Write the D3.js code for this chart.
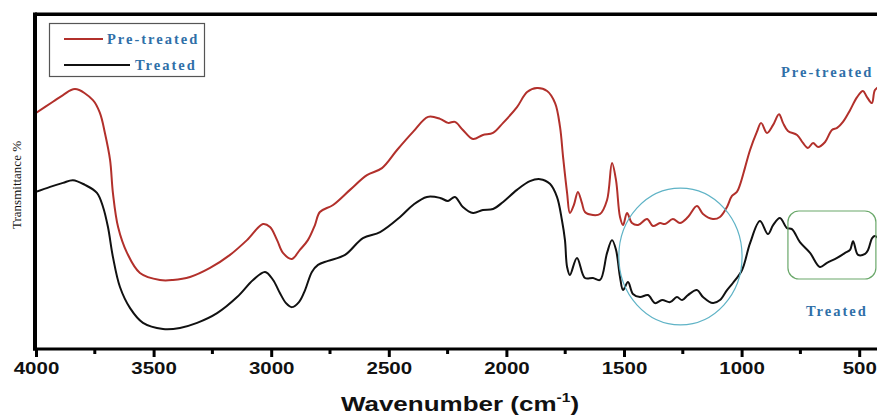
<!DOCTYPE html>
<html>
<head>
<meta charset="utf-8">
<script src="https://cdn.jsdelivr.net/npm/d3@7"></script>
<style>
    html, body { margin: 0; padding: 0; background: #fff; }
    svg { display: block; }
</style>
</head>
<body>
<div id="chart"></div>
<script>
// FTIR spectra (wavenumber in cm-1, transmittance in arbitrary %)
const pretreatedWn = [4000, 3928, 3885, 3834, 3758, 3728, 3707, 3685, 3673, 3651, 3613, 3558, 3473, 3418, 3345, 3260, 3175, 3103, 3035, 3005, 2975, 2950, 2912, 2878, 2844, 2814, 2793, 2737, 2665, 2593, 2529, 2465, 2397, 2333, 2282, 2248, 2219, 2185, 2142, 2100, 2057, 2014, 1955, 1912, 1870, 1827, 1793, 1772, 1759, 1742, 1730, 1713, 1696, 1679, 1666, 1632, 1602, 1572, 1551, 1534, 1517, 1504, 1487, 1466, 1440, 1402, 1377, 1347, 1326, 1292, 1262, 1228, 1190, 1164, 1122, 1092, 1062, 1041, 1020, 1007, 986, 964, 935, 917, 892, 866, 841, 824, 803, 764, 739, 718, 696, 675, 645, 616, 594, 569, 539, 509, 484, 467, 446, 433, 411];
const pretreatedT = [70.5, 73.8, 75.8, 77.6, 74.3, 70.4, 64.5, 56.4, 46.6, 36.4, 28.7, 22.7, 20.6, 20.6, 21.5, 24.2, 28.1, 32.5, 37.3, 36.4, 32.5, 28.7, 26.9, 29.6, 32.5, 37.0, 40.9, 43.0, 47.5, 51.9, 54.0, 59.4, 64.8, 69.3, 68.7, 67.5, 67.8, 65.4, 62.7, 63.9, 64.5, 67.5, 72.2, 76.7, 77.9, 77.0, 73.4, 66.3, 57.3, 46.6, 40.6, 43.0, 46.9, 43.6, 40.9, 40.0, 40.3, 44.5, 55.5, 50.4, 39.4, 37.0, 40.6, 37.6, 37.0, 38.8, 36.7, 37.6, 37.3, 38.8, 37.6, 39.4, 42.7, 40.3, 38.8, 39.4, 42.4, 45.7, 46.9, 49.0, 54.0, 59.4, 64.8, 67.5, 64.5, 66.9, 70.1, 67.5, 65.1, 63.9, 61.5, 60.0, 61.5, 60.3, 61.8, 65.4, 66.0, 67.8, 71.3, 75.2, 77.0, 75.2, 73.4, 77.3, 78.5];

const treatedWn = [4000, 3940, 3885, 3843, 3792, 3741, 3715, 3694, 3673, 3643, 3600, 3545, 3460, 3388, 3315, 3230, 3145, 3077, 3026, 2992, 2963, 2937, 2912, 2882, 2856, 2827, 2801, 2758, 2686, 2610, 2537, 2452, 2397, 2338, 2282, 2248, 2219, 2185, 2142, 2100, 2057, 2014, 1955, 1900, 1857, 1815, 1785, 1764, 1751, 1742, 1730, 1700, 1666, 1632, 1602, 1572, 1551, 1534, 1517, 1504, 1483, 1462, 1432, 1398, 1368, 1338, 1304, 1275, 1253, 1228, 1190, 1164, 1122, 1092, 1062, 1037, 998, 964, 922, 888, 866, 837, 807, 786, 752, 709, 667, 637, 594, 560, 539, 526, 505, 475, 462, 445, 433, 411];
const treatedT = [46.9, 48.4, 49.6, 50.4, 49.0, 46.6, 42.4, 36.4, 27.5, 18.5, 12.2, 7.8, 6.0, 6.3, 7.8, 10.7, 15.5, 20.6, 23.0, 20.6, 16.7, 13.7, 12.5, 14.0, 17.6, 23.0, 25.1, 26.3, 28.1, 33.1, 34.9, 39.4, 43.0, 45.4, 45.1, 44.2, 45.4, 42.4, 40.6, 41.5, 41.8, 43.9, 47.5, 50.1, 50.7, 49.3, 45.4, 38.5, 32.5, 24.5, 22.1, 27.2, 21.2, 21.2, 20.6, 28.7, 32.5, 29.6, 21.5, 17.6, 20.0, 16.4, 15.5, 16.1, 13.7, 14.6, 14.0, 15.5, 14.6, 16.1, 17.6, 15.5, 13.7, 14.6, 17.6, 19.7, 23.6, 31.6, 38.2, 34.3, 37.0, 39.1, 36.1, 35.8, 31.9, 28.7, 24.5, 25.7, 27.2, 28.7, 29.6, 32.2, 28.1, 28.4, 29.6, 33.1, 33.7, 32.5];

const seriesNames = ['Pre-treated', 'Treated'];
const seriesColors = ['#b2302b', '#111111'];
const xTicks = [4000, 3500, 3000, 2500, 2000, 1500, 1000, 500];
const xMinorTicks = [3750, 3250, 2750, 2250, 1750, 1250, 750];

// highlighted regions (data units)
const circleRegion = {wn: 1260, t: 27.6, rWn: 262, rT: 20.4};
const boxRegion = {wn0: 803, wn1: 429, t0: 41.2, t1: 20.9};

const width = 877, height = 417;

const x = d3.scaleLinear().domain([4000, 400]).range([36, 36 + 7.2 * 117.6]);
const y = d3.scaleLinear().domain([0, 100]).range([349, 14]);

const svg = d3.select('#chart').append('svg')
    .attr('width', width)
    .attr('height', height);

svg.append('defs').append('clipPath')
    .attr('id', 'plot-clip')
    .append('rect')
    .attr('x', 36).attr('y', 14)
    .attr('width', width).attr('height', 349 - 14);

const line = d3.line()
    .curve(d3.curveCatmullRom.alpha(0.5))
    .x(d => x(d[0]))
    .y(d => y(d[1]));

const series = [
    d3.zip(pretreatedWn, pretreatedT),
    d3.zip(treatedWn, treatedT)
];

const plot = svg.append('g').attr('clip-path', 'url(#plot-clip)');

series.forEach((data, i) => {
    plot.append('path')
        .datum(data)
        .attr('fill', 'none')
        .attr('stroke', seriesColors[i])
        .attr('stroke-width', 2)
        .attr('stroke-linejoin', 'round')
        .attr('d', line);
});

// annotations
plot.append('ellipse')
    .attr('cx', x(circleRegion.wn))
    .attr('cy', y(circleRegion.t))
    .attr('rx', x(circleRegion.wn - circleRegion.rWn) - x(circleRegion.wn))
    .attr('ry', y(circleRegion.t - circleRegion.rT) - y(circleRegion.t))
    .attr('fill', 'none')
    .attr('stroke', '#5fb3c6')
    .attr('stroke-width', 1.2);

plot.append('rect')
    .attr('x', x(boxRegion.wn0))
    .attr('y', y(boxRegion.t0))
    .attr('width', x(boxRegion.wn1) - x(boxRegion.wn0))
    .attr('height', y(boxRegion.t1) - y(boxRegion.t0))
    .attr('rx', 11)
    .attr('fill', 'none')
    .attr('stroke', '#6aa86a')
    .attr('stroke-width', 1.2);

const labelFont = '"Liberation Serif", "DejaVu Serif", serif';
const labelColor = '#2f6fa8';

function seriesLabel(sel) {
    return sel.attr('font-family', labelFont)
        .attr('font-weight', 'bold')
        .attr('font-size', 14.5)
        .attr('letter-spacing', 2)
        .attr('fill', labelColor);
}

svg.append('text')
    .attr('x', 781).attr('y', 77)
    .call(seriesLabel)
    .text(seriesNames[0]);

svg.append('text')
    .attr('x', 806).attr('y', 316)
    .call(seriesLabel)
    .text(seriesNames[1]);

// frame + axis
svg.append('line')
    .attr('x1', 35).attr('x2', width).attr('y1', 14.3).attr('y2', 14.3)
    .attr('stroke', '#000').attr('stroke-width', 3.4);

svg.append('line')
    .attr('x1', 35).attr('x2', 35).attr('y1', 12.6).attr('y2', 350.5)
    .attr('stroke', '#000').attr('stroke-width', 4);

const xAxis = d3.axisBottom(x)
    .tickValues(xTicks)
    .tickSize(8)
    .tickSizeOuter(0)
    .tickPadding(6)
    .tickFormat(d3.format('d'));

const xAxisG = svg.append('g')
    .attr('transform', 'translate(0,' + 349 + ')')
    .call(xAxis);

xAxisG.select('.domain')
    .attr('d', 'M33,0H' + width)
    .attr('stroke', '#000')
    .attr('stroke-width', 3.2);

xAxisG.selectAll('.tick line')
    .attr('stroke', '#000')
    .attr('stroke-width', 3);

xAxisG.selectAll('.tick text')
    .attr('font-family', 'Arial, "Liberation Sans", sans-serif')
    .attr('font-weight', 'bold')
    .attr('font-size', 16)
    .attr('fill', '#111')
    .attr('transform', 'scale(1.28,1)');

svg.append('g')
    .selectAll('line')
    .data(xMinorTicks)
    .join('line')
    .attr('x1', d => x(d)).attr('x2', d => x(d))
    .attr('y1', 349).attr('y2', 354)
    .attr('stroke', '#000').attr('stroke-width', 3);

// axis titles
svg.append('text')
    .attr('transform', 'translate(460,411) scale(1.3,1)')
    .attr('text-anchor', 'middle')
    .attr('font-family', 'Arial, "Liberation Sans", sans-serif')
    .attr('font-weight', 'bold')
    .attr('font-size', 20)
    .attr('fill', '#111')
    .call(t => {
        t.append('tspan').text('Wavenumber (cm');
        t.append('tspan').attr('font-size', 12).attr('dy', -9).text('-1');
        t.append('tspan').attr('dy', 9).text(')');
    });

svg.append('text')
    .attr('transform', 'translate(21,185) rotate(-90)')
    .attr('text-anchor', 'middle')
    .attr('font-family', labelFont)
    .attr('font-size', 13)
    .attr('fill', '#111')
    .text('Transmittance %');

// legend
const legend = svg.append('g');

legend.append('rect')
    .attr('x', 49.5).attr('y', 23.5)
    .attr('width', 155).attr('height', 53)
    .attr('fill', '#fff')
    .attr('stroke', '#555')
    .attr('stroke-width', 1.2);

const legendRows = [
    {x1: 64, x2: 103, y: 39, tx: 107},
    {x1: 64, x2: 130, y: 65, tx: 135}
];

legendRows.forEach((r, i) => {
    legend.append('line')
        .attr('x1', r.x1).attr('x2', r.x2)
        .attr('y1', r.y).attr('y2', r.y)
        .attr('stroke', seriesColors[i])
        .attr('stroke-width', 2);

    legend.append('text')
        .attr('x', r.tx).attr('y', r.y + 5)
        .call(seriesLabel)
        .text(seriesNames[i]);
});
</script>
</body>
</html>
